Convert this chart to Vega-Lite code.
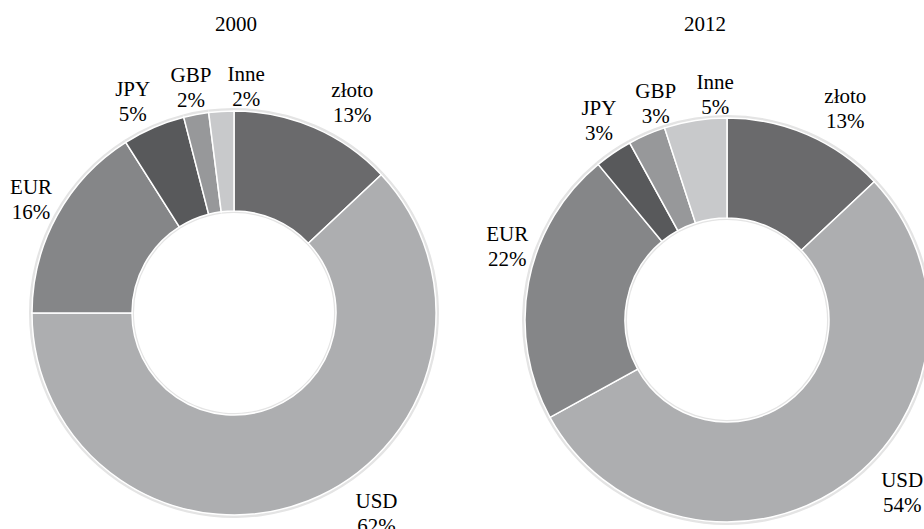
{
  "$schema": "https://vega.github.io/schema/vega-lite/v6.json",
  "width": 924,
  "height": 529,
  "autosize": {"type": "none"},
  "padding": 0,
  "background": "white",
  "config": {
    "view": {"stroke": null},
    "text": {"font": "Liberation Serif", "fontSize": 21, "lineHeight": 25}
  },
  "data": {
    "values": [
      {"year": "2000", "i": 1, "cur": "złoto", "share": 13, "label": "złoto\n13%"},
      {"year": "2000", "i": 2, "cur": "USD", "share": 62, "label": "USD\n62%"},
      {"year": "2000", "i": 3, "cur": "EUR", "share": 16, "label": "EUR\n16%"},
      {"year": "2000", "i": 4, "cur": "JPY", "share": 5, "label": "JPY\n5%"},
      {"year": "2000", "i": 5, "cur": "GBP", "share": 2, "label": "GBP\n2%"},
      {"year": "2000", "i": 6, "cur": "Inne", "share": 2, "label": "Inne\n2%"},
      {"year": "2012", "i": 1, "cur": "złoto", "share": 13, "label": "złoto\n13%"},
      {"year": "2012", "i": 2, "cur": "USD", "share": 54, "label": "USD\n54%"},
      {"year": "2012", "i": 3, "cur": "EUR", "share": 22, "label": "EUR\n22%"},
      {"year": "2012", "i": 4, "cur": "JPY", "share": 3, "label": "JPY\n3%"},
      {"year": "2012", "i": 5, "cur": "GBP", "share": 3, "label": "GBP\n3%"},
      {"year": "2012", "i": 6, "cur": "Inne", "share": 5, "label": "Inne\n5%"}
    ]
  },
  "encoding": {
    "x": {"field": "year", "type": "nominal", "axis": null,
          "scale": {"type": "point", "padding": 0, "domain": ["2000", "2012"], "range": [234, 727]}},
    "y": {"field": "year", "type": "nominal", "axis": null,
          "scale": {"type": "point", "padding": 0, "domain": ["2000", "2012"], "range": [313, 320]}}
  },
  "layer": [
    {
      "transform": [{"filter": "datum.year == '2000'"}],
      "encoding": {
        "theta": {"field": "share", "type": "quantitative", "stack": true},
        "order": {"field": "i", "type": "quantitative"},
        "color": {"field": "cur", "type": "nominal", "legend": null,
                  "scale": {"domain": ["złoto", "USD", "EUR", "JPY", "GBP", "Inne"],
                            "range": ["#6a6a6c", "#adaeb0", "#858688", "#58595b", "#97989a", "#c8c9cb"]}}
      },
      "layer": [
        {"mark": {"type": "arc", "outerRadius": 205, "innerRadius": 100, "fill": "#e4e4e4", "strokeWidth": 0}},
        {"mark": {"type": "arc", "outerRadius": 202, "innerRadius": 102, "stroke": "white", "strokeWidth": 1.5}},
        {"mark": {"type": "text", "radius": 235, "dx": 25, "dy": -6, "lineBreak": "\n", "align": "center", "baseline": "middle"},
         "encoding": {"color": {"value": "black"},
                      "text": {"condition": {"test": "datum.cur == 'złoto'", "field": "label", "type": "nominal"}, "value": ""}}},
        {"mark": {"type": "text", "radius": 235, "dx": 27, "dy": -3, "lineBreak": "\n", "align": "center", "baseline": "middle"},
         "encoding": {"color": {"value": "black"},
                      "text": {"condition": {"test": "datum.cur == 'Inne'", "field": "label", "type": "nominal"}, "value": ""}}},
        {"mark": {"type": "text", "radius": 235, "dx": 3, "dy": -12, "lineBreak": "\n", "align": "center", "baseline": "middle"},
         "encoding": {"color": {"value": "black"},
                      "text": {"condition": {"test": "datum.cur == 'EUR'", "field": "label", "type": "nominal"}, "value": ""}}},
        {"mark": {"type": "text", "radius": 235, "dx": 1, "dy": -6, "lineBreak": "\n", "align": "center", "baseline": "middle"},
         "encoding": {"color": {"value": "black"},
                      "text": {"condition": {"test": "datum.cur == 'GBP'", "field": "label", "type": "nominal"}, "value": ""}}},
        {"mark": {"type": "text", "radius": 235, "dx": -8, "dy": -7, "lineBreak": "\n", "align": "center", "baseline": "middle"},
         "encoding": {"color": {"value": "black"},
                      "text": {"condition": {"test": "datum.cur == 'JPY'", "field": "label", "type": "nominal"}, "value": ""}}},
        {"mark": {"type": "text", "radius": 235, "dx": 56, "dy": -29, "lineBreak": "\n", "align": "center", "baseline": "middle"},
         "encoding": {"color": {"value": "black"},
                      "text": {"condition": {"test": "datum.cur == 'USD'", "field": "label", "type": "nominal"}, "value": ""}}}
      ]
    },
    {
      "transform": [{"filter": "datum.year == '2012'"}],
      "encoding": {
        "theta": {"field": "share", "type": "quantitative", "stack": true},
        "order": {"field": "i", "type": "quantitative"},
        "color": {"field": "cur", "type": "nominal", "legend": null}
      },
      "layer": [
        {"mark": {"type": "arc", "outerRadius": 205, "innerRadius": 100, "fill": "#e4e4e4", "strokeWidth": 0}},
        {"mark": {"type": "arc", "outerRadius": 202, "innerRadius": 102, "stroke": "white", "strokeWidth": 1.5}},
        {"mark": {"type": "text", "radius": 235, "dx": 25, "dy": -7, "lineBreak": "\n", "align": "center", "baseline": "middle"},
         "encoding": {"color": {"value": "black"},
                      "text": {"condition": {"test": "datum.cur == 'złoto'", "field": "label", "type": "nominal"}, "value": ""}}},
        {"mark": {"type": "text", "radius": 235, "dx": 25, "dy": -5, "lineBreak": "\n", "align": "center", "baseline": "middle"},
         "encoding": {"color": {"value": "black"},
                      "text": {"condition": {"test": "datum.cur == 'Inne'", "field": "label", "type": "nominal"}, "value": ""}}},
        {"mark": {"type": "text", "radius": 235, "dx": 22, "dy": -12, "lineBreak": "\n", "align": "center", "baseline": "middle"},
         "encoding": {"color": {"value": "black"},
                      "text": {"condition": {"test": "datum.cur == 'GBP'", "field": "label", "type": "nominal"}, "value": ""}}},
        {"mark": {"type": "text", "radius": 235, "dx": 37, "dy": -29, "lineBreak": "\n", "align": "center", "baseline": "middle"},
         "encoding": {"color": {"value": "black"},
                      "text": {"condition": {"test": "datum.cur == 'USD'", "field": "label", "type": "nominal"}, "value": ""}}},
        {"mark": {"type": "text", "radius": 235, "dx": 11, "dy": -41, "lineBreak": "\n", "align": "center", "baseline": "middle"},
         "encoding": {"color": {"value": "black"},
                      "text": {"condition": {"test": "datum.cur == 'EUR'", "field": "label", "type": "nominal"}, "value": ""}}},
        {"mark": {"type": "text", "radius": 235, "dx": 4, "dy": -17, "lineBreak": "\n", "align": "center", "baseline": "middle"},
         "encoding": {"color": {"value": "black"},
                      "text": {"condition": {"test": "datum.cur == 'JPY'", "field": "label", "type": "nominal"}, "value": ""}}}
      ]
    },
    {
      "data": {"values": [{"year": "2000"}]},
      "mark": {"type": "text", "dx": 2, "dy": -288, "align": "center", "baseline": "middle", "color": "black"},
      "encoding": {"text": {"field": "year", "type": "nominal"}}
    },
    {
      "data": {"values": [{"year": "2012"}]},
      "mark": {"type": "text", "dx": -22, "dy": -295, "align": "center", "baseline": "middle", "color": "black"},
      "encoding": {"text": {"field": "year", "type": "nominal"}}
    }
  ]
}
